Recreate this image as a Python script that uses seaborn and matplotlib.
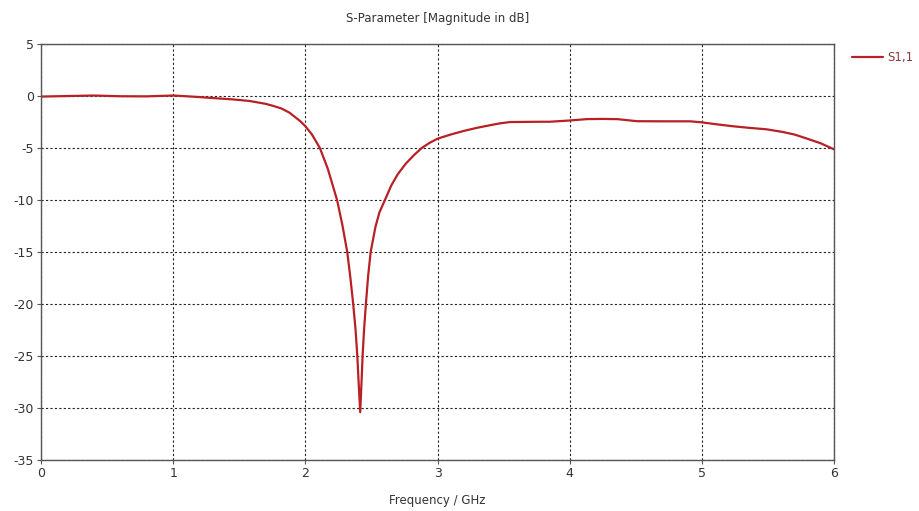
import pandas as pd
import matplotlib
matplotlib.use("Agg")
import matplotlib.pyplot as plt
import seaborn as sns

# S11 curve
freq_ghz = [0, 0.2, 0.4, 0.6, 0.8, 1.0, 1.1, 1.2, 1.33, 1.45, 1.58, 1.7, 1.76,
            1.82, 1.88, 1.96, 2.0, 2.05, 2.11, 2.17, 2.24, 2.28, 2.317, 2.34,
            2.362, 2.38, 2.393, 2.405, 2.415, 2.425, 2.433, 2.445, 2.458,
            2.475, 2.494, 2.53, 2.56, 2.602, 2.65, 2.7, 2.76, 2.82, 2.88,
            2.94, 3.0, 3.1, 3.2, 3.3, 3.4, 3.47, 3.55, 3.7, 3.85, 4.0, 4.13,
            4.25, 4.36, 4.51, 4.7, 4.91, 5.0, 5.1, 5.23, 5.35, 5.49, 5.61,
            5.7, 5.79, 5.9, 6.0]
s11_db = [-0.05, 0.0, 0.05, -0.02, -0.03, 0.05, -0.02, -0.1, -0.22, -0.32,
          -0.48, -0.75, -0.96, -1.2, -1.6, -2.4, -2.9, -3.7, -5.0, -7.0,
          -10.0, -12.4, -15.0, -17.4, -20.0, -22.5, -25.0, -28.0, -30.4,
          -27.5, -25.0, -22.3, -20.0, -17.3, -15.0, -12.6, -11.2, -10.0,
          -8.6, -7.5, -6.5, -5.7, -5.0, -4.5, -4.1, -3.7, -3.35, -3.05,
          -2.8, -2.63, -2.5, -2.48, -2.47, -2.35, -2.22, -2.2, -2.22, -2.42,
          -2.43, -2.43, -2.53, -2.7, -2.9, -3.05, -3.2, -3.45, -3.7, -4.07,
          -4.55, -5.13]

x_ticks = [0, 1, 2, 3, 4, 5, 6]
y_ticks = [5, 0, -5, -10, -15, -20, -25, -30, -35]

df = pd.DataFrame({"Frequency": freq_ghz, "S1,1": s11_db})

sns.set_style("white")
plt.rcParams["font.family"] = ["DejaVu Sans"]
plt.rcParams["axes.unicode_minus"] = False

line_color = "#b82025"

fig = plt.figure(figsize=(9.19, 5.11), dpi=100)
ax = fig.add_axes([0.0446, 0.0998, 0.863, 0.814])

sns.lineplot(data=df, x="Frequency", y="S1,1", color=line_color,
             linewidth=1.6, ax=ax, label="S1,1")

ax.set_xlim(0, 6)
ax.set_ylim(-35, 5)
ax.set_xticks(x_ticks)
ax.set_yticks(y_ticks)
ax.grid(True, color="#222222", linestyle=(0, (2, 2)), linewidth=0.8)

for s in ax.spines.values():
    s.set_color("#555555")
    s.set_linewidth(1.0)

ax.tick_params(axis="both", direction="out", length=3, width=0.8,
               color="#555555", labelsize=9, labelcolor="#333333", pad=2,
               left=True, bottom=True)

ax.set_title("S-Parameter [Magnitude in dB]", fontsize=8.5, color="#333333",
             pad=16)
ax.set_xlabel("Frequency / GHz", fontsize=8.5, color="#333333", labelpad=10)
ax.set_ylabel("")

leg = ax.legend(loc="upper left", bbox_to_anchor=(1.014, 1.0), frameon=False,
                fontsize=8.5, handlelength=2.6, handletextpad=0.4,
                borderaxespad=0.2)
for t in leg.get_texts():
    t.set_color("#8a3a3a")

plt.savefig("out.png", dpi=100)
